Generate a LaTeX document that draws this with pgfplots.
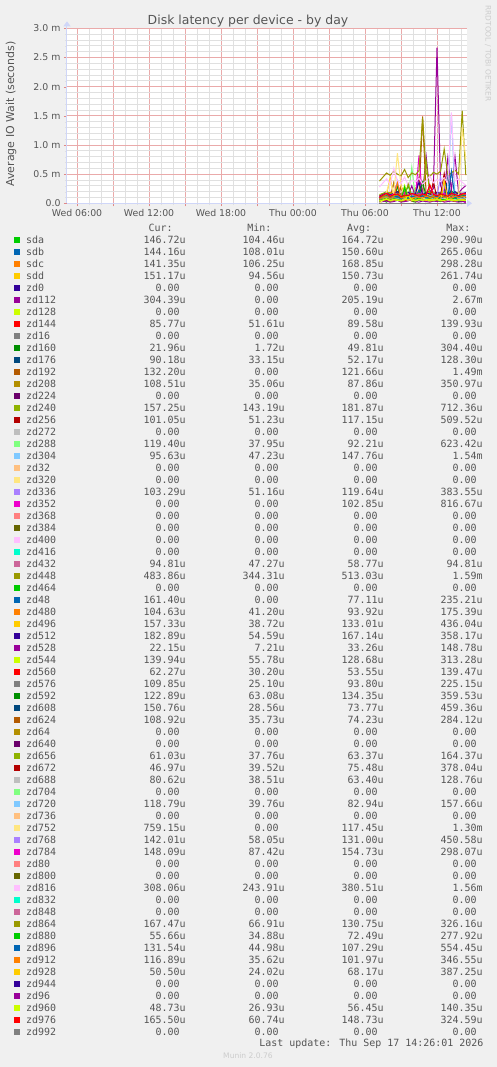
\documentclass[border=0pt]{standalone}
\usepackage{fontspec}
\setmainfont{DejaVu Sans}
\newfontfamily\monofont{DejaVu Sans Mono}
\usepackage{pgfplots}
\usepackage{pgfplotstable}
\pgfplotsset{compat=1.18}
\usetikzlibrary{arrows.meta}

% munin palette
\definecolor{p1}{HTML}{00CC00}\definecolor{p2}{HTML}{0066B3}\definecolor{p3}{HTML}{FF8000}
\definecolor{p4}{HTML}{FFCC00}\definecolor{p5}{HTML}{330099}\definecolor{p6}{HTML}{990099}
\definecolor{p7}{HTML}{CCFF00}\definecolor{p8}{HTML}{FF0000}\definecolor{p9}{HTML}{808080}
\definecolor{p10}{HTML}{008F00}\definecolor{p11}{HTML}{00487D}\definecolor{p12}{HTML}{B35A00}
\definecolor{p13}{HTML}{B38F00}\definecolor{p14}{HTML}{6B006B}\definecolor{p15}{HTML}{8FB300}
\definecolor{p16}{HTML}{B30000}\definecolor{p17}{HTML}{BEBEBE}\definecolor{p18}{HTML}{80FF80}
\definecolor{p19}{HTML}{80C9FF}\definecolor{p20}{HTML}{FFC080}\definecolor{p21}{HTML}{FFE680}
\definecolor{p22}{HTML}{AA80FF}\definecolor{p23}{HTML}{EE00CC}\definecolor{p24}{HTML}{FF8080}
\definecolor{p25}{HTML}{666600}\definecolor{p26}{HTML}{FFBFFF}\definecolor{p27}{HTML}{00FFCC}
\definecolor{p28}{HTML}{CC6699}\definecolor{p29}{HTML}{999900}
\definecolor{txt}{HTML}{555555}
\definecolor{bg}{HTML}{F0F0F0}
\definecolor{axisblue}{HTML}{CFD6F8}
\definecolor{mgrid}{HTML}{EAAAAA}
\definecolor{ngrid}{HTML}{E0E0E0}
\definecolor{mtick}{HTML}{E08888}
\definecolor{faint}{HTML}{CCCCCC}

% one row per device, values in ms, t = hours since Wed 00:00
\pgfplotstableread{
name c0 c1 c2 c3 c4 c5 c6 c7 c8 c9 c10 c11 c12 c13 c14 c15 c16 c17 c18 c19 c20 c21 c22 c23 c24
t 31.2 31.5 31.8 32.1 32.4 32.7 33.0 33.3 33.6 33.9 34.2 34.5 34.8 35.1 35.4 35.7 36.0 36.3 36.6 36.9 37.2 37.5 37.8 38.1 38.4
sda 0.12 0.15 0.18 0.14 0.16 0.20 0.13 0.17 0.29 0.15 0.16 0.19 0.14 0.18 0.21 0.15 0.17 0.13 0.19 0.16 0.22 0.14 0.17 0.16 0.147
sdb 0.11 0.14 0.16 0.13 0.15 0.18 0.12 0.26 0.14 0.15 0.17 0.13 0.16 0.19 0.14 0.15 0.13 0.17 0.15 0.14 0.16 0.18 0.13 0.15 0.144
sdc 0.13 0.17 0.15 0.19 0.14 0.16 0.30 0.17 0.15 0.18 0.16 0.20 0.14 0.17 0.19 0.15 0.18 0.16 0.21 0.15 0.17 0.14 0.19 0.16 0.141
sdd 0.10 0.14 0.16 0.13 0.17 0.15 0.14 0.16 0.12 0.15 0.26 0.14 0.16 0.13 0.15 0.17 0.14 0.16 0.15 0.13 0.17 0.15 0.14 0.16 0.151
zd112 0.05 0.12 0.18 0.10 0.35 0.15 0.08 0.22 0.14 0.30 0.12 0.45 0.18 0.80 0.20 0.25 2.67 0.30 0.15 0.78 0.22 0.80 0.18 0.25 0.304
zd144 0.07 0.09 0.11 0.08 0.10 0.12 0.07 0.09 0.14 0.08 0.10 0.09 0.06 0.11 0.08 0.10 0.09 0.12 0.07 0.09 0.10 0.08 0.11 0.09 0.086
zd160 0.03 0.05 0.02 0.06 0.04 0.30 0.03 0.05 0.07 0.04 0.02 0.06 0.05 0.03 0.08 0.04 0.05 0.03 0.06 0.04 0.05 0.07 0.03 0.04 0.022
zd176 0.04 0.06 0.05 0.03 0.07 0.05 0.04 0.06 0.13 0.05 0.04 0.06 0.05 0.07 0.04 0.05 0.06 0.04 0.05 0.07 0.05 0.04 0.06 0.05 0.090
zd192 0.05 0.10 0.15 0.08 0.12 0.20 0.10 0.14 0.09 0.18 0.11 0.13 1.49 0.12 0.10 0.16 0.09 0.14 0.12 0.10 0.18 0.11 0.13 0.10 0.132
zd208 0.06 0.08 0.10 0.07 0.35 0.09 0.06 0.08 0.11 0.07 0.09 0.10 0.08 0.06 0.12 0.08 0.09 0.07 0.10 0.08 0.09 0.11 0.07 0.09 0.109
zd240 0.15 0.17 0.20 0.16 0.18 0.19 0.15 0.22 0.17 0.16 0.19 0.18 0.16 0.71 0.17 0.19 0.16 0.18 0.20 0.17 0.16 0.19 0.18 0.17 0.157
zd256 0.08 0.11 0.14 0.09 0.12 0.10 0.13 0.09 0.11 0.15 0.10 0.12 0.09 0.13 0.11 0.10 0.12 0.14 0.51 0.11 0.10 0.13 0.12 0.11 0.101
zd288 0.06 0.09 0.07 0.10 0.08 0.09 0.07 0.08 0.10 0.62 0.09 0.11 0.08 0.09 0.07 0.10 0.08 0.09 0.11 0.08 0.09 0.07 0.10 0.09 0.119
zd304 0.10 0.14 0.18 0.12 0.15 0.17 0.11 0.16 0.13 0.19 0.14 0.12 0.17 0.15 0.13 0.18 0.14 0.16 0.12 0.15 1.54 0.13 0.17 0.14 0.096
zd336 0.08 0.11 0.14 0.10 0.12 0.38 0.09 0.13 0.11 0.10 0.14 0.12 0.09 0.13 0.11 0.12 0.10 0.14 0.12 0.11 0.13 0.10 0.12 0.11 0.103
zd352 0.05 0.09 0.12 0.07 0.10 0.14 0.08 0.11 0.09 0.13 0.10 0.82 0.08 0.12 0.10 0.09 0.11 0.13 0.08 0.10 0.12 0.09 0.11 0.07 0.00
zd432 0.05 0.06 0.07 0.05 0.06 0.08 0.05 0.06 0.07 0.05 0.06 0.09 0.05 0.06 0.07 0.05 0.06 0.05 0.07 0.06 0.05 0.06 0.07 0.05 0.095
zd448 0.38 0.45 0.52 0.48 0.55 0.50 0.47 0.58 0.44 0.52 0.49 0.56 1.47 0.51 0.46 0.53 0.50 0.55 0.93 0.48 0.52 0.57 0.50 1.59 0.484
zd48 0.02 0.05 0.08 0.04 0.07 0.10 0.05 0.08 0.06 0.09 0.07 0.23 0.06 0.08 0.05 0.07 0.09 0.06 0.08 0.10 0.07 0.05 0.09 0.08 0.161
zd480 0.07 0.09 0.11 0.08 0.10 0.12 0.07 0.09 0.17 0.08 0.10 0.09 0.11 0.08 0.10 0.12 0.09 0.07 0.10 0.09 0.11 0.08 0.10 0.09 0.105
zd496 0.09 0.12 0.15 0.44 0.11 0.13 0.14 0.10 0.12 0.16 0.11 0.13 0.15 0.12 0.10 0.14 0.13 0.11 0.15 0.12 0.13 0.14 0.11 0.13 0.157
zd512 0.12 0.15 0.18 0.14 0.17 0.20 0.15 0.16 0.19 0.14 0.17 0.36 0.15 0.18 0.16 0.14 0.19 0.17 0.15 0.18 0.16 0.20 0.15 0.17 0.183
zd528 0.02 0.03 0.04 0.02 0.03 0.05 0.02 0.03 0.04 0.15 0.03 0.02 0.04 0.03 0.02 0.04 0.03 0.05 0.02 0.03 0.04 0.03 0.02 0.03 0.022
zd544 0.09 0.12 0.15 0.11 0.13 0.14 0.10 0.31 0.12 0.14 0.11 0.13 0.15 0.12 0.10 0.14 0.13 0.12 0.15 0.11 0.13 0.14 0.12 0.13 0.140
zd560 0.04 0.05 0.06 0.04 0.05 0.07 0.04 0.05 0.06 0.04 0.05 0.14 0.05 0.06 0.04 0.05 0.06 0.05 0.04 0.06 0.05 0.04 0.06 0.05 0.062
zd576 0.06 0.09 0.11 0.08 0.10 0.12 0.07 0.09 0.08 0.10 0.22 0.09 0.08 0.11 0.09 0.10 0.08 0.11 0.09 0.10 0.08 0.11 0.09 0.10 0.110
zd592 0.10 0.13 0.15 0.12 0.14 0.16 0.11 0.13 0.15 0.12 0.14 0.13 0.36 0.12 0.14 0.15 0.13 0.12 0.16 0.14 0.13 0.15 0.12 0.14 0.123
zd608 0.04 0.07 0.09 0.06 0.08 0.07 0.05 0.08 0.06 0.09 0.07 0.05 0.08 0.06 0.07 0.09 0.06 0.08 0.07 0.46 0.06 0.08 0.07 0.06 0.151
zd624 0.05 0.07 0.09 0.06 0.08 0.07 0.28 0.06 0.08 0.07 0.09 0.06 0.07 0.08 0.06 0.09 0.07 0.06 0.08 0.07 0.09 0.06 0.08 0.07 0.109
zd656 0.04 0.06 0.08 0.05 0.07 0.06 0.05 0.07 0.06 0.08 0.05 0.07 0.06 0.16 0.05 0.07 0.06 0.08 0.05 0.06 0.07 0.05 0.06 0.07 0.061
zd672 0.05 0.07 0.09 0.06 0.08 0.07 0.06 0.08 0.07 0.09 0.06 0.08 0.07 0.06 0.08 0.38 0.07 0.06 0.08 0.07 0.09 0.06 0.08 0.07 0.047
zd688 0.04 0.06 0.07 0.05 0.06 0.08 0.05 0.06 0.07 0.05 0.06 0.13 0.05 0.07 0.06 0.05 0.07 0.06 0.08 0.05 0.06 0.07 0.05 0.06 0.081
zd720 0.05 0.08 0.10 0.07 0.09 0.08 0.06 0.09 0.07 0.16 0.08 0.07 0.09 0.08 0.10 0.07 0.08 0.09 0.07 0.10 0.08 0.07 0.09 0.08 0.119
zd752 0.00 0.05 0.20 0.40 0.15 0.86 0.30 0.10 0.05 0.08 0.12 0.06 0.10 0.05 0.08 0.06 0.10 0.05 0.07 0.09 0.06 0.08 0.12 1.30 0.759
zd768 0.09 0.12 0.15 0.11 0.13 0.14 0.10 0.12 0.16 0.11 0.13 0.12 0.14 0.11 0.13 0.15 0.12 0.45 0.13 0.11 0.14 0.12 0.13 0.15 0.142
zd784 0.11 0.14 0.17 0.13 0.16 0.15 0.12 0.18 0.14 0.16 0.13 0.17 0.15 0.14 0.30 0.16 0.13 0.15 0.17 0.14 0.16 0.15 0.13 0.17 0.148
zd816 0.28 0.35 0.42 0.32 0.60 0.38 0.34 0.45 0.31 0.40 0.36 0.43 0.33 0.39 0.47 0.35 0.41 0.37 0.44 0.34 1.56 0.38 0.42 0.36 0.308
zd864 0.09 0.12 0.15 0.11 0.13 0.14 0.10 0.12 0.33 0.11 0.13 0.15 0.12 0.14 0.11 0.13 0.12 0.15 0.11 0.13 0.14 0.12 0.13 0.15 0.167
zd880 0.05 0.07 0.09 0.06 0.08 0.07 0.05 0.28 0.06 0.08 0.07 0.09 0.06 0.07 0.08 0.06 0.09 0.07 0.06 0.08 0.07 0.09 0.06 0.07 0.056
zd896 0.07 0.10 0.13 0.09 0.11 0.12 0.08 0.10 0.09 0.12 0.11 0.10 0.13 0.09 0.11 0.10 0.12 0.09 0.11 0.10 0.55 0.09 0.12 0.10 0.132
zd912 0.07 0.10 0.12 0.08 0.11 0.35 0.09 0.10 0.12 0.08 0.11 0.10 0.09 0.12 0.10 0.11 0.09 0.13 0.10 0.11 0.09 0.12 0.10 0.11 0.117
zd928 0.04 0.06 0.08 0.05 0.07 0.06 0.05 0.07 0.06 0.08 0.05 0.07 0.06 0.05 0.07 0.06 0.08 0.05 0.39 0.06 0.07 0.05 0.06 0.07 0.051
zd960 0.04 0.05 0.07 0.04 0.06 0.05 0.04 0.06 0.14 0.05 0.04 0.06 0.05 0.07 0.04 0.05 0.06 0.04 0.05 0.07 0.05 0.04 0.06 0.05 0.049
zd976 0.10 0.14 0.17 0.12 0.15 0.16 0.11 0.14 0.13 0.17 0.15 0.12 0.16 0.14 0.32 0.15 0.13 0.16 0.14 0.12 0.17 0.15 0.13 0.16 0.166
}\raw
\pgfplotstabletranspose[colnames from=name]\data\raw

\newcommand\Z{0.00\phantom{u}}
\newcommand\zero[1]{\addplot[#1] coordinates {(31.2,0) (38.4,0)};}

\begin{document}
\begin{tikzpicture}[x=1bp,y=1bp]
% page is 497 x 1067; the axis box's lower left corner sits at the origin
\useasboundingbox (-67,-863.7) rectangle (430,203.3);
\fill[bg] (-67,-863.7) rectangle (430,203.3);

\begin{axis}[
  at={(0,0)}, anchor=south west,
  scale only axis, width=400bp, height=175bp,
  xmin=5.1667, xmax=38.5, ymin=0, ymax=3,
  axis background/.style={fill=white},
  axis x line=bottom, axis y line=left,
  x axis line style={draw=axisblue, line width=1bp, shorten >=-5bp, -{Triangle[length=5bp,width=7bp]}},
  y axis line style={draw=axisblue, line width=1bp, shorten >=-7bp, -{Triangle[length=5bp,width=7bp]}},
  xtick={6,9,12,15,18,21,24,27,30,33,36},
  xticklabels={Wed 06:00,,Wed 12:00,,Wed 18:00,,Thu 00:00,,Thu 06:00,,Thu 12:00},
  minor xtick={7,8,10,11,13,14,16,17,19,20,22,23,25,26,28,29,31,32,34,35,37,38},
  ytick={0,0.5,1,1.5,2,2.5,3},
  yticklabels={0.0,0.5 m,1.0 m,1.5 m,2.0 m,2.5 m,3.0 m},
  minor y tick num=4,
  grid=both,
  major grid style={draw=mgrid, line width=0.9bp},
  minor grid style={draw=ngrid, line width=0.7bp},
  tick align=outside, major tick length=3bp, minor tick length=2bp,
  major tick style={draw=mtick}, minor tick style={draw=ngrid},
  ticklabel style={font=\fontsize{9.4}{11}\selectfont, text=txt},
  every axis plot/.append style={line width=1bp},
]
\addplot[p1] table[x=t,y=sda]{\data};
\addplot[p2] table[x=t,y=sdb]{\data};
\addplot[p3] table[x=t,y=sdc]{\data};
\addplot[p4] table[x=t,y=sdd]{\data};
\zero{p5}
\addplot[p6] table[x=t,y=zd112]{\data};
\zero{p7}
\addplot[p8] table[x=t,y=zd144]{\data};
\zero{p9}
\addplot[p10] table[x=t,y=zd160]{\data};
\addplot[p11] table[x=t,y=zd176]{\data};
\addplot[p12] table[x=t,y=zd192]{\data};
\addplot[p13] table[x=t,y=zd208]{\data};
\zero{p14}
\addplot[p15] table[x=t,y=zd240]{\data};
\addplot[p16] table[x=t,y=zd256]{\data};
\zero{p17}
\addplot[p18] table[x=t,y=zd288]{\data};
\addplot[p19] table[x=t,y=zd304]{\data};
\zero{p20}
\zero{p21}
\addplot[p22] table[x=t,y=zd336]{\data};
\addplot[p23] table[x=t,y=zd352]{\data};
\zero{p24}
\zero{p25}
\zero{p26}
\zero{p27}
\addplot[p28] table[x=t,y=zd432]{\data};
\addplot[p29] table[x=t,y=zd448]{\data};
\zero{p1}
\addplot[p2] table[x=t,y=zd48]{\data};
\addplot[p3] table[x=t,y=zd480]{\data};
\addplot[p4] table[x=t,y=zd496]{\data};
\addplot[p5] table[x=t,y=zd512]{\data};
\addplot[p6] table[x=t,y=zd528]{\data};
\addplot[p7] table[x=t,y=zd544]{\data};
\addplot[p8] table[x=t,y=zd560]{\data};
\addplot[p9] table[x=t,y=zd576]{\data};
\addplot[p10] table[x=t,y=zd592]{\data};
\addplot[p11] table[x=t,y=zd608]{\data};
\addplot[p12] table[x=t,y=zd624]{\data};
\zero{p13}
\zero{p14}
\addplot[p15] table[x=t,y=zd656]{\data};
\addplot[p16] table[x=t,y=zd672]{\data};
\addplot[p17] table[x=t,y=zd688]{\data};
\zero{p18}
\addplot[p19] table[x=t,y=zd720]{\data};
\zero{p20}
\addplot[p21] table[x=t,y=zd752]{\data};
\addplot[p22] table[x=t,y=zd768]{\data};
\addplot[p23] table[x=t,y=zd784]{\data};
\zero{p24}
\zero{p25}
\addplot[p26] table[x=t,y=zd816]{\data};
\zero{p27}
\zero{p28}
\addplot[p29] table[x=t,y=zd864]{\data};
\addplot[p1] table[x=t,y=zd880]{\data};
\addplot[p2] table[x=t,y=zd896]{\data};
\addplot[p3] table[x=t,y=zd912]{\data};
\addplot[p4] table[x=t,y=zd928]{\data};
\zero{p5}
\zero{p6}
\addplot[p7] table[x=t,y=zd960]{\data};
\addplot[p8] table[x=t,y=zd976]{\data};
\zero{p9}
\end{axis}

\begin{scope}[shift={(-67,-863.7)}]
\node[anchor=base, inner sep=0, text=txt, font=\fontsize{12.5}{14}\selectfont] at (248,1042.5) {Disk latency per device - by day};
\node[rotate=90, inner sep=0, text=txt, font=\fontsize{11}{13}\selectfont] at (11,953) {Average IO Wait (seconds)};
\node[rotate=-90, inner sep=0, text=faint, font=\fontsize{7.5}{9}\selectfont] at (488,1013.5) {RRDTOOL / TOBI OETIKER};

\begin{scope}[every node/.style={inner sep=0, text=txt, font=\monofont\fontsize{10}{12}\selectfont}]
\node[anchor=base east] at (172.8,836) {Cur:};
\node[anchor=base east] at (271.5,836) {Min:};
\node[anchor=base east] at (371.2,836) {Avg:};
\node[anchor=base east] at (470.5,836) {Max:};
\foreach \nm/\cl/\va/\vb/\vc/\vd [count=\i from 0] in {
sda/p1/146.72u/104.46u/164.72u/290.90u,
sdb/p2/144.16u/108.01u/150.60u/265.06u,
sdc/p3/141.35u/106.25u/168.85u/298.28u,
sdd/p4/151.17u/94.56u/150.73u/261.74u,
zd0/p5/\Z/\Z/\Z/\Z,
zd112/p6/304.39u/\Z/205.19u/2.67m,
zd128/p7/\Z/\Z/\Z/\Z,
zd144/p8/85.77u/51.61u/89.58u/139.93u,
zd16/p9/\Z/\Z/\Z/\Z,
zd160/p10/21.96u/1.72u/49.81u/304.40u,
zd176/p11/90.18u/33.15u/52.17u/128.30u,
zd192/p12/132.20u/\Z/121.66u/1.49m,
zd208/p13/108.51u/35.06u/87.86u/350.97u,
zd224/p14/\Z/\Z/\Z/\Z,
zd240/p15/157.25u/143.19u/181.87u/712.36u,
zd256/p16/101.05u/51.23u/117.15u/509.52u,
zd272/p17/\Z/\Z/\Z/\Z,
zd288/p18/119.40u/37.95u/92.21u/623.42u,
zd304/p19/95.63u/47.23u/147.76u/1.54m,
zd32/p20/\Z/\Z/\Z/\Z,
zd320/p21/\Z/\Z/\Z/\Z,
zd336/p22/103.29u/51.16u/119.64u/383.55u,
zd352/p23/\Z/\Z/102.85u/816.67u,
zd368/p24/\Z/\Z/\Z/\Z,
zd384/p25/\Z/\Z/\Z/\Z,
zd400/p26/\Z/\Z/\Z/\Z,
zd416/p27/\Z/\Z/\Z/\Z,
zd432/p28/94.81u/47.27u/58.77u/94.81u,
zd448/p29/483.86u/344.31u/513.03u/1.59m,
zd464/p1/\Z/\Z/\Z/\Z,
zd48/p2/161.40u/\Z/77.11u/235.21u,
zd480/p3/104.63u/41.20u/93.92u/175.39u,
zd496/p4/157.33u/38.72u/133.01u/436.04u,
zd512/p5/182.89u/54.59u/167.14u/358.17u,
zd528/p6/22.15u/7.21u/33.26u/148.78u,
zd544/p7/139.94u/55.78u/128.68u/313.28u,
zd560/p8/62.27u/30.20u/53.55u/139.47u,
zd576/p9/109.85u/25.10u/93.80u/225.15u,
zd592/p10/122.89u/63.08u/134.35u/359.53u,
zd608/p11/150.76u/28.56u/73.77u/459.36u,
zd624/p12/108.92u/35.73u/74.23u/284.12u,
zd64/p13/\Z/\Z/\Z/\Z,
zd640/p14/\Z/\Z/\Z/\Z,
zd656/p15/61.03u/37.76u/63.37u/164.37u,
zd672/p16/46.97u/39.52u/75.48u/378.04u,
zd688/p17/80.62u/38.51u/63.40u/128.76u,
zd704/p18/\Z/\Z/\Z/\Z,
zd720/p19/118.79u/39.76u/82.94u/157.66u,
zd736/p20/\Z/\Z/\Z/\Z,
zd752/p21/759.15u/\Z/117.45u/1.30m,
zd768/p22/142.01u/58.05u/131.00u/450.58u,
zd784/p23/148.09u/87.42u/154.73u/298.07u,
zd80/p24/\Z/\Z/\Z/\Z,
zd800/p25/\Z/\Z/\Z/\Z,
zd816/p26/308.06u/243.91u/380.51u/1.56m,
zd832/p27/\Z/\Z/\Z/\Z,
zd848/p28/\Z/\Z/\Z/\Z,
zd864/p29/167.47u/66.91u/130.75u/326.16u,
zd880/p1/55.66u/34.88u/72.49u/277.92u,
zd896/p2/131.54u/44.98u/107.29u/554.45u,
zd912/p3/116.89u/35.62u/101.97u/346.55u,
zd928/p4/50.50u/24.02u/68.17u/387.25u,
zd944/p5/\Z/\Z/\Z/\Z,
zd96/p6/\Z/\Z/\Z/\Z,
zd960/p7/48.73u/26.93u/56.45u/140.35u,
zd976/p8/165.50u/60.74u/148.73u/324.59u,
zd992/p9/\Z/\Z/\Z/\Z}{
  \pgfmathsetmacro\yb{823.7-12*\i}
  \fill[\cl] (14,\yb+0.5) rectangle (20,\yb+6.3);
  \node[anchor=base west] at (26,\yb) {\nm};
  \node[anchor=base east] at (185.8,\yb) {\va};
  \node[anchor=base east] at (284.8,\yb) {\vb};
  \node[anchor=base east] at (383.8,\yb) {\vc};
  \node[anchor=base east] at (482.8,\yb) {\vd};
}
\node[anchor=base east] at (483.5,20.5) {Last update: Thu Sep 17 14:26:01 2026};
\end{scope}
\node[inner sep=0, text=faint, font=\fontsize{7.6}{9}\selectfont] at (248,11) {Munin 2.0.76};
\end{scope}
\end{tikzpicture}
\end{document}
